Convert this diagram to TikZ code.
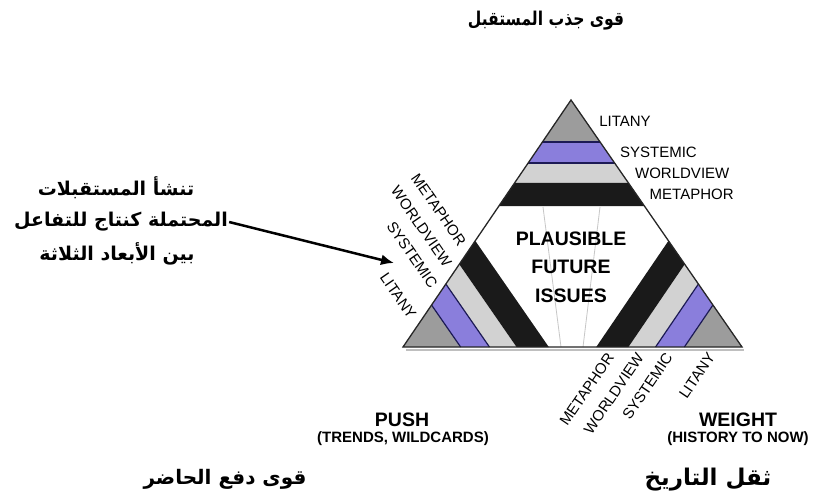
\documentclass[tikz,border=0pt]{standalone}
\usepackage{fontspec}
\setmainfont{Liberation Sans}
\newfontfamily\arabicfont[Script=Arabic]{DejaVu Sans}
\TeXXeTstate=1
\usetikzlibrary{calc,arrows.meta}

\definecolor{bandgray}{HTML}{9C9C9C}
\definecolor{bandpurple}{HTML}{8A7EDC}
\definecolor{bandlight}{HTML}{D2D2D2}
\definecolor{bandblack}{HTML}{1A1A1A}
\definecolor{bandline}{HTML}{1C1A55}

\begin{document}
\begin{tikzpicture}[x=1pt,y=-1pt,
  lab/.style={font=\fontsize{15}{15}\selectfont, inner sep=0pt},
  caption/.style={font=\bfseries\fontsize{19.5}{20}\selectfont, inner sep=0pt, anchor=base},
  subcaption/.style={font=\bfseries\fontsize{15}{16}\selectfont, inner sep=0pt, anchor=base},
  arab/.style={font=\arabicfont\bfseries\fontsize{#1}{#1}\selectfont, inner sep=1pt},
  arab/.default=19,
  bandedge/.style={draw=bandline, line width=1.2pt},
  guide/.style={draw=black!22, line width=0.8pt}]
\useasboundingbox (0,0) rectangle (816,499);

% triangle corners
\coordinate (A) at (571,100);
\coordinate (L) at (403,347);
\coordinate (R) at (742,347);

% faint shadow under the base
\draw[black!25, line width=2pt] (406,349.5) -- (744,349.5);

\fill[white] (A) -- (L) -- (R) -- cycle;

% faint guide lines in the centre
\draw[guide] (543,207) -- (561,347);
\draw[guide] (600,207) -- (583,347);

% layered bands in each corner, parallel to the opposite side
\foreach \C/\P/\Q in {A/L/R, L/A/R, R/A/L} {
  \fill[bandgray] (\C) -- ($(\C)!0.17!(\P)$) -- ($(\C)!0.17!(\Q)$) -- cycle;
  \fill[bandpurple] ($(\C)!0.17!(\P)$) -- ($(\C)!0.255!(\P)$) -- ($(\C)!0.255!(\Q)$) -- ($(\C)!0.17!(\Q)$) -- cycle;
  \fill[bandlight] ($(\C)!0.255!(\P)$) -- ($(\C)!0.335!(\P)$) -- ($(\C)!0.335!(\Q)$) -- ($(\C)!0.255!(\Q)$) -- cycle;
  \fill[bandblack] ($(\C)!0.335!(\P)$) -- ($(\C)!0.43!(\P)$) -- ($(\C)!0.43!(\Q)$) -- ($(\C)!0.335!(\Q)$) -- cycle;
  \draw[bandedge] ($(\C)!0.17!(\P)$) -- ($(\C)!0.17!(\Q)$);
  \draw[bandedge] ($(\C)!0.255!(\P)$) -- ($(\C)!0.255!(\Q)$);
}

\draw[black!85, line width=1.3pt, line join=miter] (A) -- (L) -- (R) -- cycle;

% centre text
\node[font=\bfseries\fontsize{19.5}{28.5}\selectfont, align=center, inner sep=0pt] (core) at (571,267) {PLAUSIBLE\\FUTURE\\ISSUES};

% level labels at the top corner
\foreach \t/\txt in {0.088/LITANY, 0.21/SYSTEMIC, 0.298/WORLDVIEW, 0.383/METAPHOR}
  \node[lab, anchor=west] (top-\txt) at ($($(A)!\t!(R)$)+(13,0)$) {\txt};

% level labels at the lower left corner
\foreach \t/\txt in {0.09/LITANY, 0.215/SYSTEMIC, 0.30/WORLDVIEW, 0.385/METAPHOR}
  \node[lab, anchor=east, rotate=-55.3] (left-\txt) at ($($(L)!\t!(A)$)+(-5.1,-7.4)$) {\txt};

% level labels at the lower right corner
\foreach \t/\txt in {0.075/LITANY, 0.20/SYSTEMIC, 0.285/WORLDVIEW, 0.373/METAPHOR}
  \node[lab, anchor=east, rotate=55.8] (bottom-\txt) at ($($(R)!\t!(L)$)+(-5.1,7.4)$) {\txt};

% corner captions
\node[caption] (push) at (402,426) {PUSH};
\node[subcaption] (pushsub) at (403,442) {(TRENDS, WILDCARDS)};
\node[caption] (weight) at (738,426) {WEIGHT};
\node[subcaption] (weightsub) at (738,442) {(HISTORY TO NOW)};

% Arabic captions
\node[arab=19] (pull) at (546,21) {\scalebox{0.82}[1]{\beginR قوى جذب المستقبل\endR}};
\node[arab=20] (pushar) at (225,479) {\beginR قوى دفع الحاضر\endR};
\node[arab=23] (weightar) at (708,480) {\beginR ثقل التاريخ\endR};

\node[arab] (note1) at (116,188) {\beginR تنشأ المستقبلات\endR};
\node[arab] (note2) at (121,222) {\beginR المحتملة كنتاج للتفاعل\endR};
\node[arab] (note3) at (117,254) {\beginR بين الأبعاد الثلاثة\endR};

\coordinate (tip) at (394,263);
\draw[line width=2.5pt, -{Latex[length=13pt,width=11pt]}] (note2.east) -- (tip);
\end{tikzpicture}
\end{document}
